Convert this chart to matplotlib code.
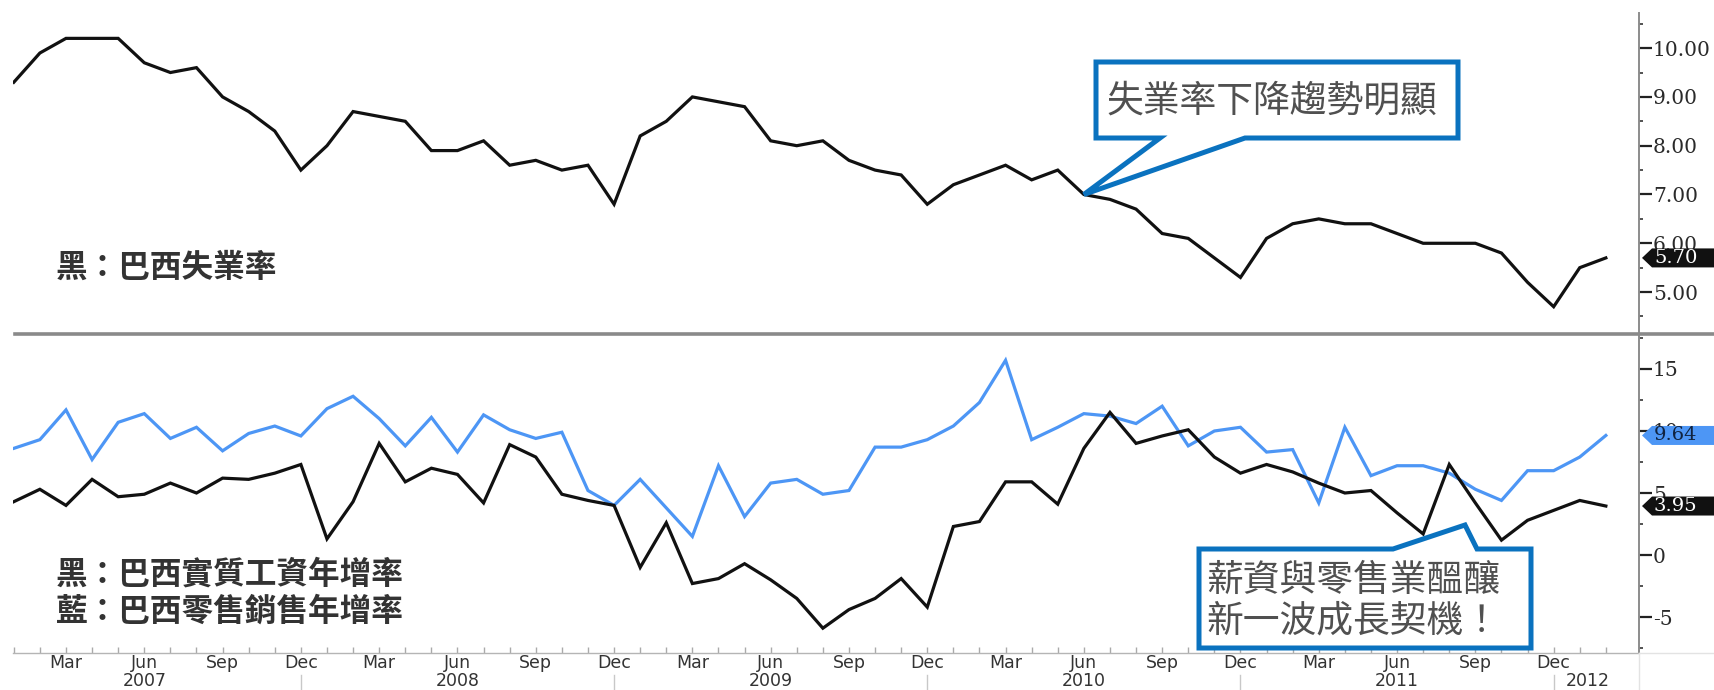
import matplotlib
matplotlib.use("Agg")
import matplotlib.pyplot as plt
from matplotlib.patches import Polygon
from matplotlib.lines import Line2D
from matplotlib.ticker import FormatStrFormatter, MultipleLocator
import numpy as np

plt.rcParams['font.family'] = ['Noto Sans CJK TC', 'DejaVu Sans']
plt.rcParams['axes.unicode_minus'] = False

# Monthly observations, Jan 2007 .. Feb 2012 (index 0 = Jan 2007)
unemployment = [9.3, 9.9, 10.2, 10.2, 10.2, 9.7, 9.5, 9.6, 9.0, 8.7, 8.3, 7.5,
                8.0, 8.7, 8.6, 8.5, 7.9, 7.9, 8.1, 7.6, 7.7, 7.5, 7.6, 6.8,
                8.2, 8.5, 9.0, 8.9, 8.8, 8.1, 8.0, 8.1, 7.7, 7.5, 7.4, 6.8,
                7.2, 7.4, 7.6, 7.3, 7.5, 7.0, 6.9, 6.7, 6.2, 6.1, 5.7, 5.3,
                6.1, 6.4, 6.5, 6.4, 6.4, 6.2, 6.0, 6.0, 6.0, 5.8, 5.2, 4.7,
                5.5, 5.7]
real_wages = [4.3, 5.3, 4.0, 6.1, 4.7, 4.9, 5.8, 5.0, 6.2, 6.1, 6.6, 7.3,
              1.3, 4.3, 9.0, 5.9, 7.0, 6.5, 4.2, 8.9, 7.9, 4.9, 4.4, 4.0,
              -1.0, 2.6, -2.3, -1.9, -0.7, -2.0, -3.5, -5.9, -4.4, -3.5, -1.9, -4.2,
              2.3, 2.7, 5.9, 5.9, 4.1, 8.6, 11.5, 9.0, 9.6, 10.1, 7.9, 6.6,
              7.3, 6.7, 5.8, 5.0, 5.2, 3.4, 1.7, 7.3, 4.2, 1.2, 2.8, 3.6,
              4.4, 3.95]
retail_sales = [8.6, 9.3, 11.7, 7.7, 10.7, 11.4, 9.4, 10.3, 8.4, 9.8, 10.4, 9.6,
                11.8, 12.8, 11.0, 8.8, 11.1, 8.3, 11.3, 10.1, 9.4, 9.9, 5.2, 4.0,
                6.1, 3.8, 1.5, 7.2, 3.1, 5.8, 6.1, 4.9, 5.2, 8.7, 8.7, 9.3,
                10.4, 12.3, 15.7, 9.3, 10.3, 11.4, 11.2, 10.6, 12.0, 8.8, 10.0, 10.3,
                8.3, 8.5, 4.2, 10.3, 6.4, 7.2, 7.2, 6.6, 5.3, 4.4, 6.8, 6.8,
                7.9, 9.64]

months = np.arange(len(unemployment))
month_names = ['Jan', 'Feb', 'Mar', 'Apr', 'May', 'Jun',
               'Jul', 'Aug', 'Sep', 'Oct', 'Nov', 'Dec']
labelled_months = ['Mar', 'Jun', 'Sep', 'Dec']
years = [2007, 2008, 2009, 2010, 2011, 2012]

W, H = 1715, 690
fig = plt.figure(figsize=(W / 100, H / 100), dpi=100)


def fx(px):
    return px / W


def fy(py):
    return 1 - py / H


LEFT, RIGHT = 13, 1639
ax_top = fig.add_axes([fx(LEFT), fy(335), fx(RIGHT) - fx(LEFT), fy(13) - fy(335)])
ax_bot = fig.add_axes([fx(LEFT), fy(653), fx(RIGHT) - fx(LEFT), fy(335) - fy(653)])

BLACK = '#111111'
BLUE = '#4d96f5'
TEXT = '#333333'
LW = 2.3

ax_top.plot(months, unemployment, color=BLACK, lw=LW, solid_joinstyle='miter')
ax_bot.plot(months, retail_sales, color=BLUE, lw=LW, solid_joinstyle='miter')
ax_bot.plot(months, real_wages, color=BLACK, lw=LW, solid_joinstyle='miter')

ax_top.set_ylim(4.12, 10.72)
ax_bot.set_ylim(-7.9, 17.74)

for ax in (ax_top, ax_bot):
    ax.set_xlim(-0.03, 62.27)
    for s in ('left', 'top', 'bottom'):
        ax.spines[s].set_visible(False)
    ax.spines['right'].set_color('#8c8c8c')
    ax.spines['right'].set_linewidth(1.4)
    ax.yaxis.tick_right()
    ax.tick_params(axis='y', which='major', direction='out', length=9,
                   width=1.6, color='#222222', pad=1, labelsize=14.5,
                   labelcolor='#2a2a2a', labelfontfamily='DejaVu Serif')
    ax.tick_params(axis='y', which='minor', direction='out', length=3,
                   width=1.3, color='#444444')
    ax.set_facecolor('white')

ax_top.yaxis.set_major_locator(MultipleLocator(1.0))
ax_top.yaxis.set_minor_locator(MultipleLocator(0.5))
ax_top.yaxis.set_major_formatter(FormatStrFormatter('%.2f'))
ax_top.set_xticks([])

ax_bot.yaxis.set_major_locator(MultipleLocator(5))
ax_bot.yaxis.set_minor_locator(MultipleLocator(2.5))
ax_bot.yaxis.set_major_formatter(FormatStrFormatter('%d'))

# Monthly x ticks along the lower panel
ax_bot.spines['bottom'].set_visible(True)
ax_bot.spines['bottom'].set_color('#b5b5b5')
ax_bot.spines['bottom'].set_linewidth(1.0)
ax_bot.set_xticks(months)
ax_bot.set_xticklabels([])
ax_bot.tick_params(axis='x', which='major', direction='in', length=4,
                   width=1.0, color='#aaaaaa')

xt = ax_bot.get_xaxis_transform()
for m in months:
    name = month_names[m % 12]
    if name in labelled_months:
        ax_bot.text(m, -0.03, name, transform=xt, ha='center', va='center',
                    fontsize=12.5, color=TEXT, family='DejaVu Sans')
    if name == 'Dec':
        ax_bot.add_line(Line2D([m, m], [-0.069, -0.12], transform=xt,
                               color='#c8c8c8', lw=1.0, clip_on=False))

last_dec = max(m for m in months if m % 12 == 11)
for i, yr in enumerate(years):
    xpos = 12 * i + 5
    if yr == years[-1]:
        xpos = last_dec + 1.3
    ax_bot.text(xpos, -0.087, str(yr), transform=xt, ha='center', va='center',
                fontsize=12.5, color=TEXT, family='DejaVu Sans')

# Divider between the two panels and faint frame pieces on the right
fig.add_artist(Line2D([fx(15), 1.0], [fy(334), fy(334)], color='#8a8a8a',
                      lw=2.6, zorder=6))
fig.add_artist(Line2D([fx(RIGHT), 1.0], [fy(653), fy(653)], color='#e3e3e3',
                      lw=1.0, zorder=1))
fig.add_artist(Line2D([fx(RIGHT), fx(RIGHT)], [fy(653), 0.0], color='#e3e3e3',
                      lw=1.0, zorder=1))

to_fig = fig.transFigure.inverted()


def data_to_fig(ax, x, y):
    return to_fig.transform(ax.transData.transform((x, y)))


def value_tag(ax, value, text, face, tcolor):
    y = data_to_fig(ax, 0, value)[1]
    h = 9.5 / H
    fig.add_artist(Polygon([(fx(1642), y), (fx(1652), y + h), (1.0, y + h),
                            (1.0, y - h), (fx(1652), y - h)], closed=True,
                           transform=fig.transFigure, facecolor=face,
                           edgecolor='none', zorder=10))
    fig.text(fx(1654), y, text, ha='left', va='center', color=tcolor,
             fontsize=14, family='DejaVu Serif', zorder=11)


value_tag(ax_top, unemployment[-1], f'{unemployment[-1]:.2f}', '#111111', 'white')
value_tag(ax_bot, retail_sales[-1], f'{retail_sales[-1]:.2f}', '#4d96f5', '#10233f')
value_tag(ax_bot, real_wages[-1], f'{real_wages[-1]:.2f}', '#111111', 'white')

# Speech-bubble call-outs
CALLOUT = '#0a72bf'
CALL_TEXT = '#505050'


def px_to_fig(pts):
    return [(fx(x), fy(y)) for x, y in pts]


tip = data_to_fig(ax_top, 41, unemployment[41])
top_bubble = px_to_fig([(1096, 62), (1458, 62), (1458, 138), (1245, 138)])
top_bubble += [tuple(tip)]
top_bubble += px_to_fig([(1160, 138), (1096, 138)])
fig.add_artist(Polygon(top_bubble, closed=True, transform=fig.transFigure,
                       facecolor='white', edgecolor=CALLOUT, lw=3.6,
                       joinstyle='miter', zorder=8))
fig.text(fx(1272), fy(101), '失業率下降趨勢明顯', ha='center', va='center',
         fontsize=26.5, color=CALL_TEXT, zorder=9)

bot_bubble = px_to_fig([(1199, 549), (1393, 549), (1465, 525), (1477, 549),
                        (1531, 549), (1531, 648), (1199, 648)])
fig.add_artist(Polygon(bot_bubble, closed=True, transform=fig.transFigure,
                       facecolor='white', edgecolor=CALLOUT, lw=3.6,
                       joinstyle='miter', zorder=8))
fig.text(fx(1206), fy(580), '薪資與零售業醞釀', ha='left', va='center',
         fontsize=26.5, color=CALL_TEXT, zorder=9)
fig.text(fx(1206), fy(621), '新一波成長契機！', ha='left', va='center',
         fontsize=26.5, color=CALL_TEXT, zorder=9)

# Series keys
fig.text(fx(56), fy(268), '黑：巴西失業率', ha='left', va='center',
         fontsize=22.8, fontweight='bold', color=TEXT, zorder=9)
fig.text(fx(56), fy(575), '黑：巴西實質工資年增率', ha='left', va='center',
         fontsize=22.8, fontweight='bold', color=TEXT, zorder=9)
fig.text(fx(56), fy(612), '藍：巴西零售銷售年增率', ha='left', va='center',
         fontsize=22.8, fontweight='bold', color=TEXT, zorder=9)

fig.savefig('out.png', dpi=100, facecolor='white')
